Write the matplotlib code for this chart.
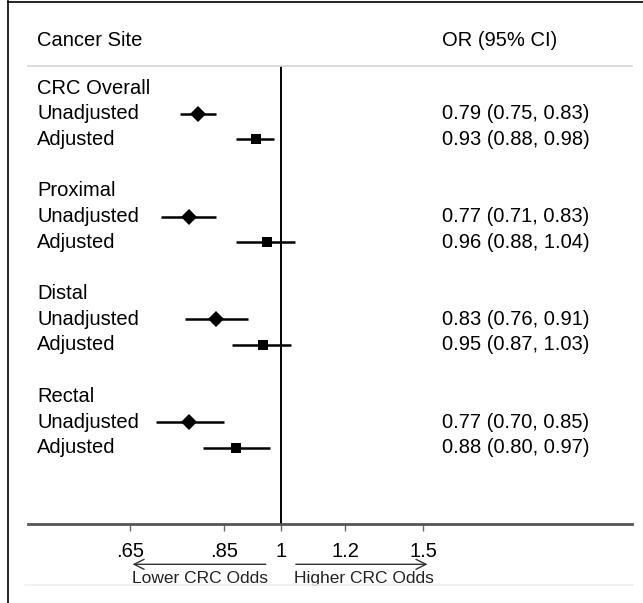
import matplotlib.pyplot as plt
import numpy as np
from matplotlib.lines import Line2D
from matplotlib.ticker import FixedLocator, NullLocator
from matplotlib.transforms import blended_transform_factory

plt.rcParams["font.family"] = ["Liberation Sans", "DejaVu Sans"]

# Forest plot data
sites = ["CRC Overall", "Proximal", "Distal", "Rectal"]
models = ["Unadjusted", "Adjusted"]
or_unadj = [0.79, 0.77, 0.83, 0.77]
lo_unadj = [0.75, 0.71, 0.76, 0.70]
hi_unadj = [0.83, 0.83, 0.91, 0.85]
or_adj = [0.93, 0.96, 0.95, 0.88]
lo_adj = [0.88, 0.88, 0.87, 0.80]
hi_adj = [0.98, 1.04, 1.03, 0.97]

tick_vals = [0.65, 0.85, 1, 1.2, 1.5]
tick_labels = [".65", ".85", "1", "1.2", "1.5"]

W, H = 643, 603
fig = plt.figure(figsize=(W / 100, H / 100), dpi=100)
ax = fig.add_axes([28 / W, (H - 524) / H, (632 - 28) / W, (524 - 66) / H])

ax.set_xscale("log")
ax.set_xlim(0.4864, 2.718)
ax.set_ylim(16.97, -0.86)

lab_fs = 14.5
x_lab = 0.015
x_or = 0.685
tr = blended_transform_factory(ax.transAxes, ax.transData)

for i, site in enumerate(sites):
    r0 = i * 4
    ax.text(x_lab, r0, site, transform=tr, va="center", ha="left", fontsize=lab_fs)
    rows = [
        (r0 + 1, or_unadj[i], lo_unadj[i], hi_unadj[i], "D", 8),
        (r0 + 2, or_adj[i], lo_adj[i], hi_adj[i], "s", 7),
    ]
    for (row, est, lo, hi, mk, ms), name in zip(rows, models):
        ax.plot([lo, hi], [row, row], color="black", lw=1.8, solid_capstyle="butt")
        ax.plot(est, row, marker=mk, color="black", ms=ms, mew=0)
        ax.text(x_lab, row, name, transform=tr, va="center", ha="left", fontsize=lab_fs)
        ax.text(x_or, row, f"{est:.2f} ({lo:.2f}, {hi:.2f})", transform=tr,
                va="center", ha="left", fontsize=lab_fs)

# header row
ax.text(x_lab, -1.87, "Cancer Site", transform=tr, va="center", ha="left",
        fontsize=lab_fs, clip_on=False)
ax.text(x_or, -1.87, "OR (95% CI)", transform=tr, va="center", ha="left",
        fontsize=lab_fs, clip_on=False)

ax.axvline(1, color="black", lw=1.4)

for s in ["left", "right"]:
    ax.spines[s].set_visible(False)
ax.spines["top"].set_color("#d4d4d4")
ax.spines["top"].set_linewidth(1.2)
ax.spines["bottom"].set_color("#555555")
ax.spines["bottom"].set_linewidth(2)

ax.xaxis.set_major_locator(FixedLocator(tick_vals))
ax.xaxis.set_minor_locator(NullLocator())
ax.set_xticklabels(tick_labels)
ax.tick_params(axis="x", length=5, width=1, color="#666666", labelsize=14.5, pad=8)
ax.set_yticks([])

# direction arrows below the axis
arr_kw = dict(arrowstyle="->", color="#333333", lw=1.0, mutation_scale=18)
ax.annotate("", xy=(0.65, -0.088), xytext=(0.965, -0.088),
            xycoords=("data", "axes fraction"), arrowprops=arr_kw)
ax.annotate("", xy=(1.53, -0.088), xytext=(1.035, -0.088),
            xycoords=("data", "axes fraction"), arrowprops=arr_kw)
ax.text(0.794, -0.12, "Lower CRC Odds", transform=blended_transform_factory(ax.transData, ax.transAxes),
        ha="center", va="center", fontsize=12.5, color="#222222")
ax.text(1.267, -0.12, "Higher CRC Odds", transform=blended_transform_factory(ax.transData, ax.transAxes),
        ha="center", va="center", fontsize=12.5, color="#222222")

# outer frame and faint bottom rule
fig.add_artist(Line2D([8 / W, 8 / W], [0, 1 - 1 / H], color="black", lw=1.2))
fig.add_artist(Line2D([8 / W, 1], [1 - 1.5 / H, 1 - 1.5 / H], color="black", lw=1.2))
fig.add_artist(Line2D([25 / W, 633 / W], [1 - 585 / H, 1 - 585 / H], color="#eeeeee", lw=1.2))

fig.savefig("out.png", dpi=100)
